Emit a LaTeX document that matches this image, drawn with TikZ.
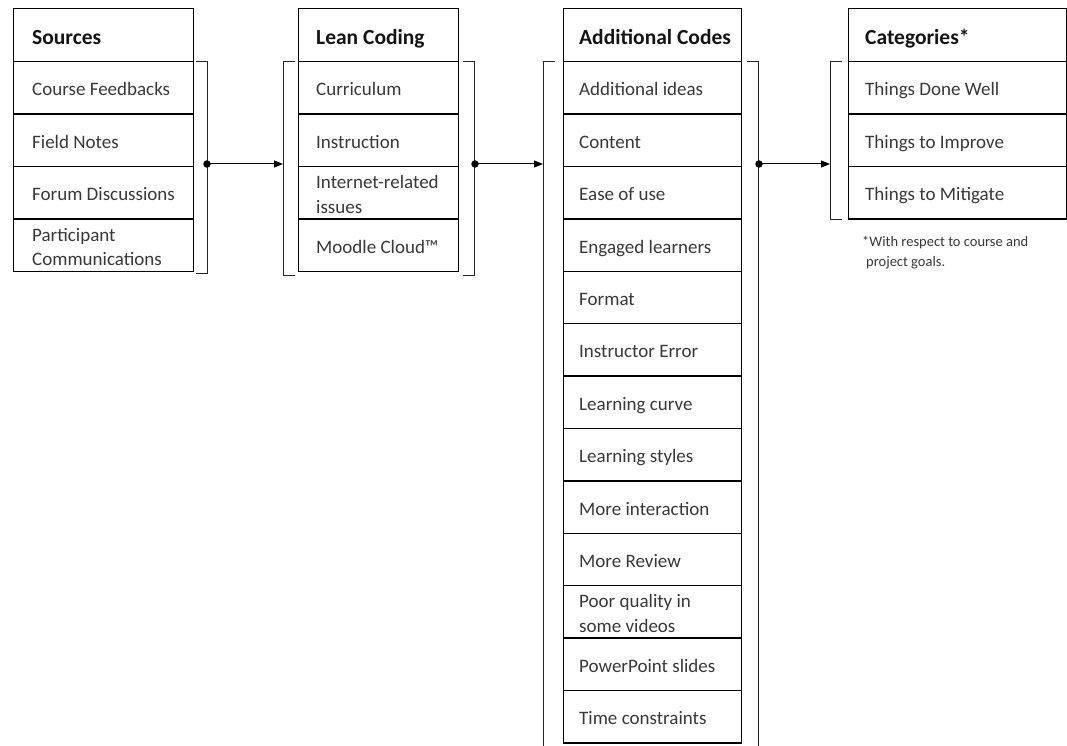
\documentclass[tikz,border=0pt]{standalone}
\usepackage{fontspec}
\setmainfont{Carlito}
\usetikzlibrary{arrows.meta}
\begin{document}
\begin{tikzpicture}[x=1pt,y=-1pt,
  cell/.style={draw=black, line width=1.4pt, rectangle, anchor=north west, minimum height=52.4pt, inner sep=0pt},
  txt/.style={anchor=base west, align=left, inner sep=0pt, font=\fontsize{19}{24.5}\selectfont, text=black!78},
  headtxt/.style={anchor=base west, inner sep=0pt, font=\fontsize{21.5}{26}\selectfont\bfseries, text=black!92},
  note/.style={anchor=north west, align=left, inner sep=0pt, font=\fontsize{14.5}{20}\selectfont, text=black!78},
  brk/.style={line width=1pt, draw=black!85},
  link/.style={line width=1pt, draw=black, -{Triangle[length=9pt,width=7pt]}},
  dotst/.style={circle, fill=black, inner sep=0pt, minimum size=7.5pt},
]
\useasboundingbox (0,0) rectangle (1067,746);

% ---------- Sources ----------
\node[cell, minimum width=180pt, minimum height=53pt] (s0) at (13,8) {};
\node[headtxt] (ts0) at ([xshift=19pt,yshift=-9.5pt]s0.west) {Sources};
\foreach [count=\i] \t/\dy in {Course Feedbacks/8, Field Notes/8, Forum Discussions/8, {Participant\\Communications}/20.5}{
  \node[cell, minimum width=180pt] (s\i) at (13,{61+52.4*(\i-1)}) {};
  \node[txt] (ts\i) at ([xshift=19pt,yshift=-\dy pt]s\i.west) {\t};
}

% ---------- Lean Coding ----------
\node[cell, minimum width=160pt, minimum height=53pt] (l0) at (298,8) {};
\node[headtxt] (tl0) at ([xshift=18pt,yshift=-9.5pt]l0.west) {Lean Coding};
\foreach [count=\i] \t/\dy in {Curriculum/8, Instruction/8, {Internet-related\\issues}/20.5, {Moodle Cloud™}/8}{
  \node[cell, minimum width=160pt] (l\i) at (298,{61+52.4*(\i-1)}) {};
  \node[txt] (tl\i) at ([xshift=18pt,yshift=-\dy pt]l\i.west) {\t};
}

% ---------- Additional Codes ----------
\node[cell, minimum width=178pt, minimum height=53pt] (a0) at (563,8) {};
\node[headtxt] (ta0) at ([xshift=16pt,yshift=-9.5pt]a0.west) {Additional Codes};
\foreach [count=\i] \t/\dy in {Additional ideas/8, Content/8, Ease of use/8, Engaged learners/8, Format/8, Instructor Error/8, Learning curve/8, Learning styles/8, More interaction/8, More Review/8, {Poor quality in\\some videos}/20.5, PowerPoint slides/8, Time constraints/8}{
  \node[cell, minimum width=178pt] (a\i) at (563,{61+52.4*(\i-1)}) {};
  \node[txt] (ta\i) at ([xshift=16pt,yshift=-\dy pt]a\i.west) {\t};
}

% ---------- Categories ----------
\node[cell, minimum width=218pt, minimum height=53pt] (c0) at (848,8) {};
\node[headtxt] (tc0) at ([xshift=17pt,yshift=-9.5pt]c0.west) {Categories*};
\foreach [count=\i] \t in {Things Done Well, Things to Improve, Things to Mitigate}{
  \node[cell, minimum width=218pt] (c\i) at (848,{61+52.4*(\i-1)}) {};
  \node[txt] (tc\i) at ([xshift=17pt,yshift=-8pt]c\i.west) {\t};
}
\node[note] (fn) at (862,236) {*With respect to course and\\\hspace{4pt}project goals.};

% ---------- Brackets ----------
\draw[brk] (196,62) -- (207,62) -- (207,273) -- (196,273);
\draw[brk] (295,62) -- (283,62) -- (283,275) -- (295,275);
\draw[brk] (463,62) -- (474,62) -- (474,275) -- (463,275);
\draw[brk] (555,62) -- (543,62) -- (543,750);
\draw[brk] (747,62) -- (758,62) -- (758,750);
\draw[brk] (842,62) -- (830,62) -- (830,219) -- (842,219);

% ---------- Connectors ----------
\node[dotst] (d1) at (207,164) {};
\node[dotst] (d2) at (475,164) {};
\node[dotst] (d3) at (759,164) {};
\coordinate (e1) at (283,164);
\coordinate (e2) at (543,164);
\coordinate (e3) at (830,164);
\draw[link] (d1.center) -- (e1);
\draw[link] (d2.center) -- (e2);
\draw[link] (d3.center) -- (e3);
\end{tikzpicture}
\end{document}
